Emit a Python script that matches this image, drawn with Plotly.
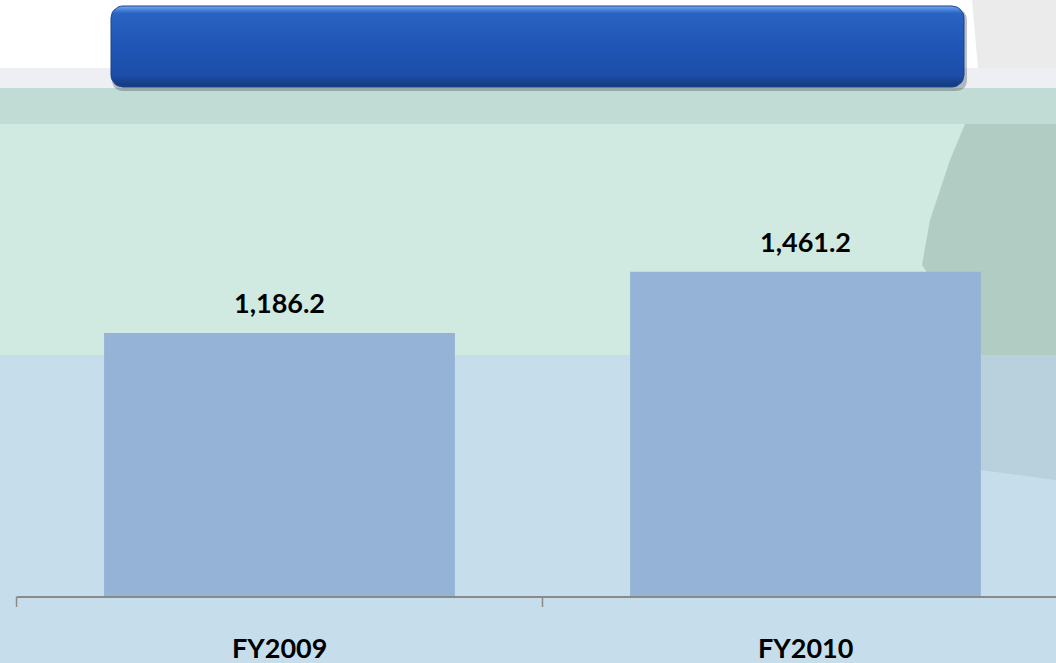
import numpy as np
import plotly.graph_objects as go

# chart data
categories = ["FY2009", "FY2010"]
values = [1186.2, 1461.2]
value_labels = ["1,186.2", "1,461.2"]

W, H = 1056, 663
BOTTOM = 66          # px below the baseline
Y_MAX = 2682         # value at top of the figure
X_RANGE = [-0.5314, 1.4763]

BAR_COLOR = "#95b3d7"
AXIS_COLOR = "#8a8a8a"
FONT = "Lato"


def py(p):
    # pixel row (from top) -> paper y
    return 1 - p / H


def px(p):
    return p / W


def rounded_rect(x0, y0, x1, y1, r):
    # svg path in paper coords, corners in px
    rx, ry = r / W, r / H
    a, b, c, d = px(x0), py(y0), px(x1), py(y1)
    return (f"M{a+rx},{b} L{c-rx},{b} Q{c},{b} {c},{b-ry} "
            f"L{c},{d+ry} Q{c},{d} {c-rx},{d} L{a+rx},{d} "
            f"Q{a},{d} {a},{d+ry} L{a},{b-ry} Q{a},{b} {a+rx},{b} Z")


def rounded_pts(x0, y0, x1, y1, r, k=8):
    # outline points in px for a filled scatter
    xs, ys = [], []
    corners = [(x1 - r, y0 + r, -90, 0), (x1 - r, y1 - r, 0, 90),
               (x0 + r, y1 - r, 90, 180), (x0 + r, y0 + r, 180, 270)]
    for cx, cy, a0, a1 in corners:
        t = np.radians(np.linspace(a0, a1, k))
        xs += list(cx + r * np.cos(t))
        ys += list(cy + r * np.sin(t))
    return xs + xs[:1], ys + ys[:1]


fig = go.Figure()
fig.add_trace(go.Bar(
    x=list(range(len(categories))),
    y=values,
    width=0.667,
    marker=dict(color=BAR_COLOR, line=dict(width=0)),
    hoverinfo="skip",
))

# blue header bar (pixel-space overlay axes)
hx, hy = rounded_pts(111, 6, 964, 87, 12)
fig.add_trace(go.Scatter(
    x=hx, y=hy, xaxis="x2", yaxis="y2", mode="lines", fill="toself",
    line=dict(color="#1a438f", width=1),
    fillgradient=dict(type="vertical", start=6, stop=87,
                      colorscale=[[0, "#7aaaf0"], [0.04, "#4f88df"], [0.09, "#2a63c2"],
                                  [0.5, "#1f56b5"], [0.86, "#1c4da8"], [0.94, "#18408c"],
                                  [1, "#153a7c"]]),
    hoverinfo="skip",
))

shapes = []
# background bands
bands = [(0, 68, "#ffffff"), (68, 88, "#eeeff2"), (88, 124, "#c1dbd5"),
         (124, 355, "#d0eae2"), (355, 663, "#c6deeb")]
for top, bot, col in bands:
    shapes.append(dict(type="rect", xref="paper", yref="paper", layer="below",
                       x0=0, x1=1, y0=py(bot), y1=py(top),
                       fillcolor=col, line=dict(width=0)))

# faint photo texture on the right edge
shapes.append(dict(type="path", xref="paper", yref="paper", layer="below",
                   path=f"M{px(972)},{py(0)} L{px(1056)},{py(0)} L{px(1056)},{py(68)} L{px(978)},{py(68)} Z",
                   fillcolor="#dedede", opacity=0.6, line=dict(width=0)))
shapes.append(dict(type="path", xref="paper", yref="paper", layer="below",
                   path=(f"M{px(965)},{py(124)} L{px(1056)},{py(124)} L{px(1056)},{py(355)} "
                         f"L{px(980)},{py(355)} L{px(945)},{py(300)} L{px(922)},{py(265)} "
                         f"L{px(930)},{py(220)} L{px(950)},{py(160)} Z"),
                   fillcolor="#acc8bd", opacity=0.85, line=dict(width=0)))
shapes.append(dict(type="path", xref="paper", yref="paper", layer="below",
                   path=(f"M{px(975)},{py(355)} L{px(1056)},{py(355)} L{px(1056)},{py(480)} "
                         f"L{px(980)},{py(470)} Z"),
                   fillcolor="#b5cdda", opacity=0.8, line=dict(width=0)))

# header shadow
shapes.append(dict(type="path", xref="paper", yref="paper", layer="below",
                   path=rounded_rect(112, 9, 967, 91, 12),
                   fillcolor="rgba(40,50,70,0.3)", line=dict(width=0)))

# axis line and boundary ticks
n = len(categories)
base = BOTTOM / H
shapes.append(dict(type="line", xref="x", yref="paper", x0=-0.5, x1=n - 0.5, y0=base, y1=base,
                   line=dict(color=AXIS_COLOR, width=2)))
for i in range(n + 1):
    shapes.append(dict(type="line", xref="x", yref="paper",
                       x0=i - 0.5, x1=i - 0.5, y0=base, y1=base - 10 / H,
                       line=dict(color=AXIS_COLOR, width=1.5)))

annotations = []
for i, (v, lab) in enumerate(zip(values, value_labels)):
    annotations.append(dict(x=i, y=v, xref="x", yref="y", text=f"<b>{lab}</b>",
                            showarrow=False, yanchor="bottom", yshift=12,
                            font=dict(family=FONT, size=27, color="#000000")))
for i, cat in enumerate(categories):
    annotations.append(dict(x=i, y=py(647), xref="x", yref="paper", text=f"<b>{cat}</b>",
                            showarrow=False, yanchor="middle",
                            font=dict(family=FONT, size=27, color="#000000")))

fig.update_layout(
    width=W, height=H,
    margin=dict(l=0, r=0, t=0, b=0),
    paper_bgcolor="#c6deeb",
    plot_bgcolor="rgba(0,0,0,0)",
    showlegend=False,
    shapes=shapes,
    annotations=annotations,
    xaxis=dict(range=X_RANGE, visible=False, fixedrange=True),
    yaxis=dict(range=[0, Y_MAX], domain=[base, 1], visible=False, fixedrange=True),
    xaxis2=dict(range=[0, W], domain=[0, 1], anchor="y2", visible=False, fixedrange=True),
    yaxis2=dict(range=[H, 0], domain=[0, 1], anchor="x2", visible=False, fixedrange=True),
)

fig.write_html("out.html", config={"displayModeBar": False},
               post_script="document.body.style.margin='0';")
